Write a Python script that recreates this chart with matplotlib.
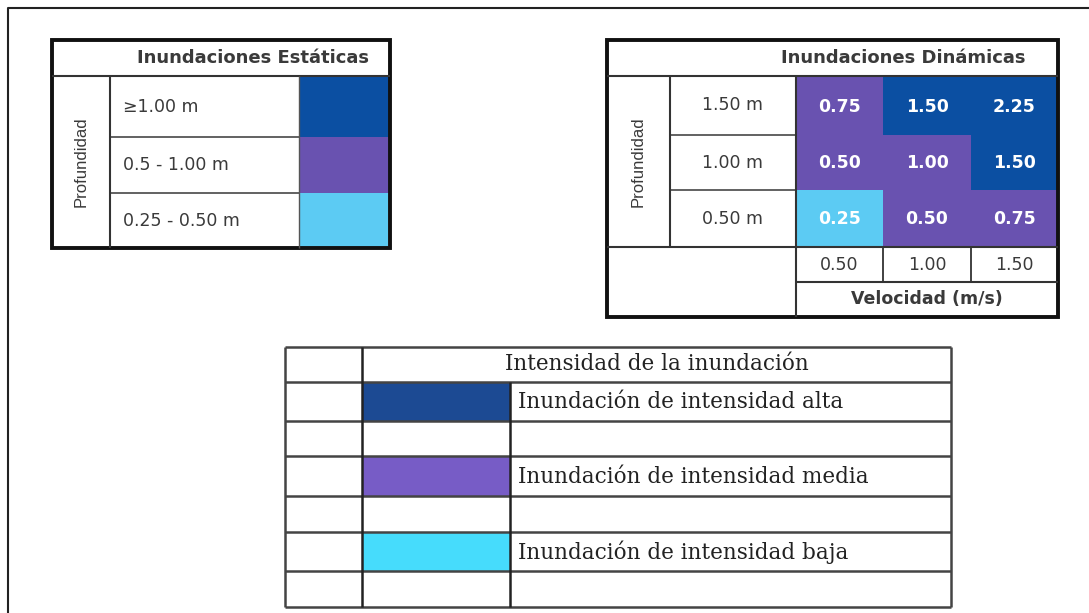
import matplotlib.pyplot as plt
from matplotlib.patches import Rectangle

# ---------------- data ----------------
static_title = 'Inundaciones Estáticas'
static_labels = ['≥1.00 m', '0.5 - 1.00 m', '0.25 - 0.50 m']
static_levels = ['alta', 'media', 'baja']

dyn_title = 'Inundaciones Dinámicas'
dyn_depths = ['1.50 m', '1.00 m', '0.50 m']
dyn_speeds = ['0.50', '1.00', '1.50']
dyn_values = [[0.75, 1.50, 2.25],
              [0.50, 1.00, 1.50],
              [0.25, 0.50, 0.75]]
dyn_levels = [['media', 'alta', 'alta'],
              ['media', 'media', 'alta'],
              ['baja', 'media', 'media']]

legend_title = 'Intensidad de la inundación'
legend_levels = ['alta', 'media', 'baja']
legend_labels = ['Inundación de intensidad alta',
                 'Inundación de intensidad media',
                 'Inundación de intensidad baja']

top_colors = {'alta': '#0b4fa2', 'media': '#6952b0', 'baja': '#5ccbf3'}
legend_colors = {'alta': '#1c4a93', 'media': '#775cc6', 'baja': '#46dcfc'}

W, H = 1089, 613
fig = plt.figure(figsize=(W / 100, H / 100), dpi=100)
ax = fig.add_axes([0, 0, 1, 1])
ax.set_xlim(0, W)
ax.set_ylim(H, 0)
ax.axis('off')

sans = 'DejaVu Sans'
serif = 'DejaVu Serif'
txt_col = '#3a3a3a'
fs = 12.5
fs_title = 13


def hline(y, x0, x1, lw=1.5, c='#333333'):
    ax.plot([x0, x1], [y, y], color=c, lw=lw, solid_capstyle='butt')


def vline(x, y0, y1, lw=1.5, c='#333333'):
    ax.plot([x, x], [y0, y1], color=c, lw=lw, solid_capstyle='butt')


def cell(x0, y0, x1, y1, color):
    ax.add_patch(Rectangle((x0, y0), x1 - x0, y1 - y0, facecolor=color, edgecolor='none'))


# outer frame
ax.plot([8, 8, W], [H, 8, 8], color='#222222', lw=1.5)

# ---------------- static table ----------------
L0, L1, L2, L3 = 52, 110, 299, 390
T0, T1 = 40, 76
rows_s = [76, 137, 193, 248]
for i, lab in enumerate(static_labels):
    cell(L2, rows_s[i], L3, rows_s[i + 1], top_colors[static_levels[i]])
    ax.text(L1 + 13, (rows_s[i] + rows_s[i + 1]) / 2, lab, fontsize=fs, family=sans,
            color=txt_col, ha='left', va='center')
    if i > 0:
        hline(rows_s[i], L1, L2, lw=1.3, c='#555555')
hline(T1, L0, L3, lw=1.5)
vline(L1, T1, rows_s[-1], lw=1.5)
vline(L2, T1, rows_s[-1], lw=1.0, c='#555555')
ax.add_patch(Rectangle((L0, T0), L3 - L0, rows_s[-1] - T0, facecolor='none',
                       edgecolor='#111111', lw=2.8))
ax.text((L1 + L3) / 2 + 3, (T0 + T1) / 2, static_title, fontsize=fs_title, family=sans,
        fontweight='bold', color=txt_col, ha='center', va='center')
ax.text((L0 + L1) / 2, (T1 + rows_s[-1]) / 2, 'Profundidad', fontsize=12, family='Liberation Sans',
        color=txt_col, rotation=90, ha='center', va='center')

# ---------------- dynamic table ----------------
R0, R1, R2 = 607, 670, 796
cols_d = [796, 883, 971, 1058]
rows_d = [76, 135, 190, 247]
V0, V1 = 282, 317
for i, dep in enumerate(dyn_depths):
    for j in range(len(dyn_speeds)):
        cell(cols_d[j], rows_d[i], cols_d[j + 1], rows_d[i + 1], top_colors[dyn_levels[i][j]])
        ax.text((cols_d[j] + cols_d[j + 1]) / 2, (rows_d[i] + rows_d[i + 1]) / 2 + 1,
                f'{dyn_values[i][j]:.2f}', fontsize=fs, family=sans, fontweight='bold',
                color='white', ha='center', va='center')
    ax.text((R1 + R2) / 2, (rows_d[i] + rows_d[i + 1]) / 2, dep, fontsize=fs, family=sans,
            color=txt_col, ha='center', va='center')
    if i > 0:
        hline(rows_d[i], R1, R2, lw=1.3, c='#555555')
for j, sp in enumerate(dyn_speeds):
    ax.text((cols_d[j] + cols_d[j + 1]) / 2, (rows_d[-1] + V0) / 2 + 1, sp, fontsize=fs,
            family=sans, color=txt_col, ha='center', va='center')
    if j > 0:
        vline(cols_d[j], rows_d[-1], V0, lw=1.3)
hline(T1, R0, cols_d[-1], lw=1.5)
hline(rows_d[-1], R0, cols_d[-1], lw=1.5)
hline(V0, R2, cols_d[-1], lw=1.5)
vline(R1, T1, rows_d[-1], lw=1.5)
vline(R2, T1, V1, lw=1.5)
ax.add_patch(Rectangle((R0, T0), cols_d[-1] - R0, V1 - T0, facecolor='none',
                       edgecolor='#111111', lw=2.8))
ax.text(903, (T0 + T1) / 2, dyn_title, fontsize=fs_title, family=sans, fontweight='bold',
        color=txt_col, ha='center', va='center')
ax.text((R2 + cols_d[-1]) / 2, (V0 + V1) / 2, 'Velocidad (m/s)', fontsize=fs, family=sans,
        fontweight='bold', color=txt_col, ha='center', va='center')
ax.text((R0 + R1) / 2, (T1 + rows_d[-1]) / 2, 'Profundidad', fontsize=12, family='Liberation Sans',
        color=txt_col, rotation=90, ha='center', va='center')

# ---------------- legend table ----------------
B0, B1, B2, B3 = 285, 362, 510, 951
rows_b = [347, 382, 421, 456, 496, 532, 571, 607]
for k, (lev, lab) in enumerate(zip(legend_levels, legend_labels)):
    r = 1 + 2 * k
    cell(B1, rows_b[r], B2, rows_b[r + 1], legend_colors[lev])
    ax.text(B2 + 8, (rows_b[r] + rows_b[r + 1]) / 2 + 1, lab, fontsize=15.5, family=serif,
            color='#222222', ha='left', va='center')
ax.text((B1 + B3) / 2, (rows_b[0] + rows_b[1]) / 2, legend_title, fontsize=15.5, family=serif,
        color='#222222', ha='center', va='center')
for y in rows_b:
    hline(y, B0, B3, lw=1.8, c='#444444')
vline(B0, rows_b[0], rows_b[-1], lw=1.8, c='#444444')
vline(B1, rows_b[0], rows_b[-1], lw=1.8, c='#222222')
vline(B2, rows_b[1], rows_b[-1], lw=1.8, c='#222222')
vline(B3, rows_b[0], rows_b[-1], lw=1.8, c='#444444')

fig.savefig('out.png', dpi=100)
